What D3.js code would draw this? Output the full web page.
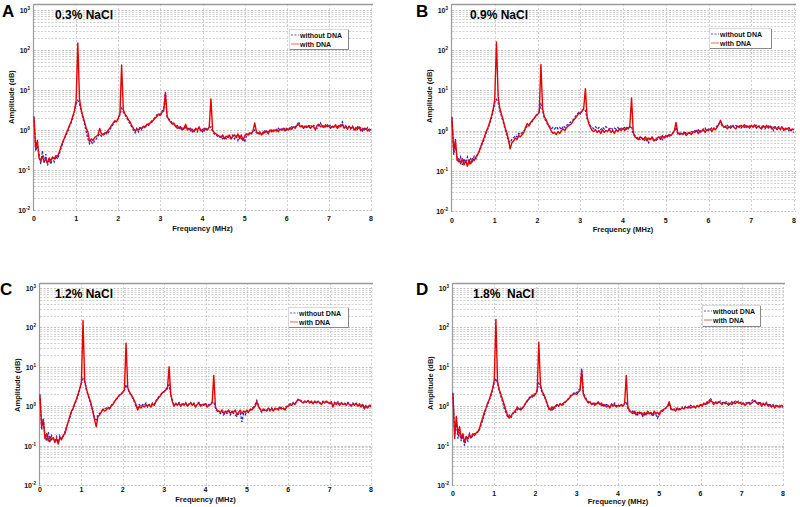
<!DOCTYPE html>
<html><head><meta charset="utf-8">
<script src="https://cdn.jsdelivr.net/npm/d3@7"></script>
<style>body{margin:0;background:#fff}svg{display:block;font-family:"Liberation Sans",Arial,sans-serif}</style>
</head><body><svg id="c" width="800" height="507"></svg>
<script>
// ---- data ----
const panelLetters = ["A","B","C","D"];
const panelTitles = ["0.3% NaCl","0.9% NaCl","1.2% NaCl","1.8%\u00a0\u00a0NaCl"];
const seriesNames = ["without DNA","with DNA"];
const xTickValues = [0,1,2,3,4,5,6,7,8];
const yTickExponents = [-2,-1,0,1,2,3];
const freqStep = 0.04; // MHz sampling of the spectra, 0..8 MHz
const frequencies = d3.range(201).map(i => +(i*freqStep).toFixed(2));

const withA = [
2.0,0.35,0.55,0.2,0.17,0.22,0.16,0.19,0.15,0.2,0.17,0.21,0.19,0.23,0.22,0.28,0.38,0.5,0.62,0.8,1.0,1.3,1.6,2.2,3.0,
5.5,150,6,3.2,2.2,1.6,1.1,0.9,0.5,0.6,0.55,0.65,0.7,0.75,1.1,0.8,0.75,0.85,0.8,1.0,1.1,1.3,1.5,1.7,1.6,
2.0,2.6,42,3.2,2.5,2.2,1.8,1.6,1.3,1.1,0.95,1.05,1.0,1.15,1.1,1.25,1.2,1.4,1.3,1.5,1.6,1.8,2.0,2.2,2.5,
2.4,2.8,3.0,8.5,2.2,1.8,1.6,1.4,1.5,1.2,1.3,1.1,1.2,1.0,1.1,1.4,1.0,1.1,0.95,1.05,0.9,1.1,1.0,1.2,0.95,
1.05,0.95,1.1,1.0,1.2,6,1.0,0.85,0.8,0.75,0.7,0.65,0.75,0.6,0.7,0.65,0.75,0.6,0.7,0.75,0.65,0.8,0.6,0.75,0.55,
0.7,0.8,0.75,0.85,0.8,0.95,1.5,0.9,0.8,0.9,0.75,0.9,0.85,0.95,0.8,1.0,0.9,1.0,0.95,1.05,0.9,1.05,1.0,1.1,0.95,
1.1,1.0,1.15,1.05,1.2,1.1,1.3,1.4,1.2,1.3,1.1,1.25,1.15,1.3,1.1,1.25,1.2,1.0,1.3,1.4,1.2,1.3,1.15,1.35,1.2,
1.3,1.1,1.25,1.2,1.35,1.1,1.3,1.2,1.4,1.1,1.2,1.05,1.25,1.1,1.2,1.0,1.15,1.05,1.2,0.95,1.1,1.0,1.1,0.95,1.05,
1.0];
const withoutA = [
2.2,0.3,0.4,0.25,0.14,0.3,0.15,0.25,0.13,0.18,0.14,0.2,0.16,0.22,0.19,0.25,0.35,0.45,0.6,0.75,0.9,1.2,1.5,2.0,2.8,
4.5,5.5,4.5,3.0,2.0,1.4,0.9,0.6,0.45,0.5,0.45,0.55,0.6,0.7,0.8,0.7,0.8,0.75,0.9,0.85,1.0,1.2,1.4,1.6,1.7,
1.9,2.4,3.5,2.8,2.4,2.0,1.7,1.4,1.2,1.0,0.85,1.1,0.9,1.2,1.0,1.3,1.1,1.4,1.4,1.6,1.7,1.9,2.1,2.4,2.6,
2.2,3.0,3.2,9,2.0,1.9,1.7,1.5,1.4,1.3,1.1,1.2,1.0,1.2,1.0,1.2,1.1,1.0,1.1,0.9,1.0,1.05,0.9,1.1,1.0,
0.9,1.1,1.0,1.05,1.1,1.2,0.9,0.8,0.75,0.7,0.65,0.7,0.6,0.65,0.6,0.7,0.6,0.65,0.75,0.6,0.7,0.55,0.7,0.6,0.65,
0.5,0.7,0.8,0.75,0.85,0.9,1.0,0.85,0.9,0.8,0.85,0.8,0.95,0.85,0.9,0.95,1.0,0.9,1.05,0.95,1.1,1.0,1.05,0.95,1.1,
1.0,1.15,1.05,1.2,1.1,1.2,1.3,1.6,1.3,1.2,1.3,1.1,1.3,1.2,1.35,1.15,1.3,1.2,1.1,1.3,1.5,1.2,1.3,1.2,1.4,
1.15,1.3,1.2,1.1,1.3,1.25,1.15,1.35,1.6,1.2,1.3,1.1,1.2,1.05,1.25,1.1,1.0,1.2,1.05,1.15,0.95,1.1,1.0,1.15,0.95,
1.0];
const withB = [
2.0,0.3,0.6,0.18,0.2,0.15,0.2,0.14,0.18,0.13,0.19,0.15,0.2,0.18,0.22,0.25,0.32,0.42,0.55,0.7,0.95,1.2,1.6,2.2,3.2,
6,160,7,3.5,2.5,1.8,1.2,0.9,0.6,0.35,0.5,0.55,0.65,0.6,0.75,0.7,0.8,0.9,1.2,1.5,1.3,1.6,1.8,2.0,2.3,
2.5,2.8,44,3.5,2.2,1.9,1.5,1.2,1.0,0.85,0.9,0.8,0.95,0.85,1.0,1.1,1.0,1.2,1.3,1.4,1.5,1.8,2.0,2.3,2.6,
2.8,3.0,3.5,11,2.2,1.5,1.2,1.0,0.95,1.05,0.9,1.0,0.85,1.05,0.9,1.0,0.95,1.1,0.9,1.0,0.85,1.05,0.95,1.1,1.0,
1.15,1.0,1.2,1.1,1.3,6.5,0.9,0.7,0.65,0.6,0.7,0.65,0.6,0.7,0.55,0.65,0.6,0.7,0.55,0.6,0.65,0.7,0.6,0.75,0.65,
0.75,0.7,0.8,0.75,0.85,1.0,1.6,0.9,0.8,0.85,0.8,0.9,0.75,0.85,0.9,0.8,0.95,0.9,1.0,0.85,1.0,0.95,1.1,0.9,1.05,
1.0,1.1,0.95,1.15,1.05,1.2,1.4,1.8,1.4,1.2,1.3,1.1,1.25,1.15,1.3,1.2,1.1,1.3,1.2,1.35,1.25,1.4,1.2,1.3,1.15,
1.35,1.2,1.4,1.15,1.3,1.2,1.1,1.3,1.2,1.35,1.15,1.3,1.1,1.2,1.25,1.05,1.2,1.1,1.25,1.0,1.15,1.1,1.2,1.0,1.1,
1.05];
const withoutB = [
2.2,0.25,0.45,0.2,0.16,0.22,0.14,0.2,0.16,0.22,0.15,0.2,0.17,0.23,0.2,0.27,0.3,0.4,0.5,0.65,0.9,1.1,1.5,2.0,3.0,
5,6,5,3.2,2.2,1.6,1.1,0.8,0.55,0.5,0.6,0.65,0.75,0.7,0.85,0.8,0.9,1.0,1.1,1.3,1.4,1.5,1.7,2.0,2.4,
2.6,3.0,4.5,3.2,2.0,1.7,1.4,1.3,1.1,1.2,1.1,1.25,1.1,1.2,1.05,1.3,1.2,1.35,1.4,1.6,1.7,1.9,2.2,2.5,2.8,
2.6,3.2,3.5,3.2,2.0,1.6,1.3,1.2,1.1,1.25,1.1,1.2,1.05,1.2,1.1,1.25,1.15,1.1,1.2,1.05,1.15,1.1,1.2,1.05,1.15,
1.1,1.2,1.1,1.25,1.2,1.3,0.8,0.75,0.65,0.7,0.6,0.65,0.55,0.6,0.65,0.5,0.6,0.65,0.6,0.55,0.6,0.65,0.7,0.6,0.7,
0.65,0.75,0.7,0.8,0.85,0.95,1.2,0.85,0.9,0.8,0.85,0.95,0.85,0.9,0.85,0.95,0.9,1.0,0.95,1.05,0.9,1.05,1.0,1.15,1.0,
1.1,1.05,1.2,1.1,1.2,1.3,1.5,1.6,1.3,1.25,1.2,1.35,1.2,1.3,1.4,1.25,1.35,1.2,1.3,1.15,1.3,1.2,1.35,1.2,1.3,
1.2,1.3,1.2,1.35,1.25,1.3,1.2,1.4,1.1,1.25,1.3,1.15,1.25,1.0,1.2,1.15,1.25,1.05,1.2,1.1,1.05,1.15,1.0,1.1,0.95,
0.9];
const withC = [
1.8,0.3,0.45,0.15,0.2,0.13,0.17,0.14,0.16,0.12,0.15,0.11,0.16,0.14,0.18,0.2,0.28,0.4,0.55,0.75,0.9,1.2,1.5,2.0,2.8,
4.0,150,4.5,2.8,2.0,1.5,1.1,0.7,0.45,0.3,0.55,0.6,0.7,0.85,0.75,0.8,0.9,0.85,1.0,1.1,1.3,1.5,1.7,1.9,2.0,
2.3,2.6,40,3.0,2.3,2.0,1.7,1.4,1.1,0.8,1.0,0.9,1.05,0.95,1.1,1.0,1.1,0.95,1.15,1.05,1.3,1.5,1.7,1.9,2.2,
2.3,2.6,2.8,10,2.0,1.3,1.0,1.15,1.05,1.2,1.0,1.15,1.05,1.2,1.0,1.1,1.2,1.05,1.15,0.95,1.1,1.2,1.0,1.1,1.05,
1.15,0.95,1.05,1.1,1.2,6,0.95,0.8,0.75,0.7,0.8,0.65,0.75,0.7,0.8,0.65,0.75,0.7,0.8,0.6,0.7,0.8,0.65,0.75,0.7,
0.8,0.7,0.85,0.8,0.9,1.0,1.3,1.0,0.85,0.75,0.85,0.8,0.75,0.9,0.8,0.85,0.75,0.9,0.85,0.8,0.95,0.85,0.9,0.8,0.95,
1.0,1.1,1.05,1.2,1.1,1.3,1.5,1.4,1.3,1.2,1.35,1.25,1.4,1.2,1.3,1.15,1.35,1.2,1.3,1.25,1.1,1.3,1.2,1.35,1.25,
1.15,1.3,0.95,1.2,1.1,1.25,1.05,1.2,1.1,1.15,1.05,1.2,1.1,1.0,1.15,1.05,1.2,1.0,1.1,0.95,1.1,0.85,1.0,0.9,1.05,
0.95];
const withoutC = [
2.0,0.25,0.5,0.18,0.13,0.22,0.12,0.18,0.15,0.13,0.17,0.12,0.18,0.15,0.17,0.22,0.3,0.38,0.5,0.7,0.85,1.1,1.4,1.9,2.6,
3.8,5,4.2,2.6,1.9,1.4,1.0,0.75,0.5,0.45,0.6,0.65,0.75,0.8,0.85,0.9,0.95,0.9,1.05,1.15,1.3,1.5,1.6,1.9,2.1,
2.2,2.5,3.5,2.8,2.2,1.9,1.6,1.3,1.0,0.9,1.1,1.0,1.1,1.05,1.2,0.95,1.1,1.05,1.2,1.1,1.35,1.6,1.8,2.0,2.3,
2.4,2.7,3.0,3.5,2.0,1.4,1.1,1.2,1.1,1.25,1.05,1.2,1.1,1.25,1.05,1.15,1.25,1.1,1.2,1.0,1.15,1.25,1.05,1.15,1.1,
1.2,1.0,1.1,1.15,1.25,1.3,0.9,0.75,0.7,0.65,0.75,0.6,0.7,0.65,0.75,0.6,0.7,0.65,0.6,0.55,0.65,0.7,0.4,0.65,0.6,
0.75,0.7,0.8,0.85,0.95,1.1,1.4,1.05,0.8,0.7,0.8,0.75,0.8,0.85,0.75,0.9,0.8,0.85,0.8,0.9,0.85,0.95,0.85,0.9,1.0,
1.05,1.15,1.1,1.25,1.15,1.35,1.45,1.5,1.35,1.25,1.3,1.3,1.35,1.25,1.35,1.2,1.3,1.25,1.35,1.2,1.2,1.35,1.25,1.3,1.2,
1.2,1.25,1.05,1.25,1.15,1.3,1.1,1.25,1.15,1.2,1.1,1.25,1.15,1.05,1.2,1.1,1.15,1.05,1.15,1.0,1.15,0.9,1.05,0.95,1.1,
1.0];
const withD = [
2.0,0.15,0.55,0.2,0.3,0.15,0.2,0.12,0.17,0.15,0.19,0.16,0.2,0.18,0.21,0.22,0.27,0.38,0.5,0.7,0.9,1.2,1.5,2.0,2.8,
4.5,160,4.2,2.6,2.0,1.5,1.1,0.8,0.6,0.5,0.55,0.65,0.7,0.8,0.95,0.85,0.8,0.9,1.0,1.2,1.4,1.5,1.7,1.9,1.8,
2.0,2.4,42,3.5,2.4,2.0,1.6,1.2,0.9,0.8,0.95,0.85,1.0,1.1,1.0,1.15,1.05,1.2,1.3,1.4,1.5,1.7,1.9,2.0,2.1,
2.0,2.3,2.5,8,2.0,1.6,1.4,1.2,1.3,1.1,1.2,1.05,1.15,1.3,1.1,1.2,1.0,1.1,0.95,1.05,0.9,1.1,1.0,1.1,0.95,
1.05,1.0,1.1,1.0,1.15,6,0.95,0.75,0.7,0.65,0.75,0.6,0.7,0.65,0.7,0.55,0.7,0.6,0.75,0.65,0.7,0.6,0.75,0.65,0.7,
0.6,0.75,0.8,0.85,0.9,1.0,1.3,0.9,0.8,0.85,0.75,0.9,0.8,0.85,0.9,0.85,0.95,0.9,1.0,0.9,0.95,1.0,0.9,1.05,0.95,
1.1,1.0,1.2,1.1,1.3,1.2,1.4,1.3,1.1,1.25,1.15,1.3,1.2,1.1,1.25,1.15,1.2,1.05,1.2,1.1,1.25,1.15,1.3,1.2,1.25,
1.1,1.2,1.05,1.15,1.25,1.1,1.2,1.3,1.4,1.2,1.1,1.25,1.0,1.15,1.05,1.2,1.0,1.1,0.95,1.05,0.9,1.05,1.0,0.95,1.05,
1.0];
const withoutD = [
2.2,0.2,0.4,0.15,0.22,0.13,0.18,0.1,0.16,0.13,0.2,0.15,0.18,0.2,0.19,0.24,0.25,0.33,0.45,0.6,0.85,1.1,1.4,1.9,2.6,
4.0,5,4.0,2.5,1.8,1.3,0.9,0.7,0.55,0.6,0.5,0.6,0.75,0.7,0.85,0.8,0.9,0.85,1.05,1.15,1.3,1.6,1.8,1.7,2.0,
2.1,2.6,3.8,3.0,2.2,1.8,1.5,1.1,0.85,0.9,0.8,0.95,0.9,1.05,1.15,1.1,1.2,1.1,1.25,1.35,1.6,1.8,2.0,2.1,2.3,
2.2,2.5,2.8,9,2.2,1.8,1.5,1.3,1.2,1.15,1.1,1.2,1.1,1.2,1.15,1.05,1.15,1.0,1.1,1.05,0.95,1.15,1.05,1.2,1.0,
1.1,0.95,1.05,1.1,1.2,1.3,0.85,0.8,0.7,0.75,0.65,0.7,0.6,0.7,0.6,0.65,0.6,0.7,0.65,0.6,0.7,0.55,0.65,0.6,0.5,
0.65,0.7,0.75,0.8,0.9,0.95,1.2,0.85,0.85,0.8,0.9,0.85,0.9,0.8,0.95,0.9,1.0,0.95,0.9,1.05,1.0,0.95,1.05,1.0,1.1,
1.05,1.15,1.1,1.2,1.15,1.35,1.6,1.35,1.2,1.3,1.25,1.2,1.35,1.2,1.3,1.25,1.3,1.2,1.15,1.3,1.2,1.35,1.25,1.35,1.2,
1.3,1.15,1.25,1.2,1.3,1.2,1.35,1.5,1.3,1.25,1.2,1.3,1.1,1.2,1.1,1.25,1.05,1.15,1.0,1.1,0.95,1.1,0.95,1.05,0.9,
1.0];
const withSeries = [withA, withB, withC, withD];
const withoutSeries = [withoutA, withoutB, withoutC, withoutD];

// ---- layout (positions only) ----
const layouts = [
 {left:34, right:371, top:10, bottom:210, frame:4, letter:[2,17], title:[55,19], ytitle:[11,97], xtickY:221, xtitleY:231, legend:[289,29,59,20]},
 {left:452, right:794, top:10, bottom:211, frame:4, letter:[416,17], title:[470,19], ytitle:[429,96], xtickY:223, xtitleY:232, legend:[709,28,62,20]},
 {left:40, right:371, top:288, bottom:485, frame:283, letter:[0,295], title:[55,298], ytitle:[17,385], xtickY:492, xtitleY:502, legend:[288,307,60,20]},
 {left:453, right:783, top:288, bottom:485, frame:283, letter:[416,295], title:[473,298], ytitle:[430,383], xtickY:496, xtitleY:504, legend:[702,305,58,21]}
];
const RED = "#e80000", BLUE = "#2a2ad8", GRID = "#c4c4c4", TXT = "#111";

const svg = d3.select("#c");

layouts.forEach((L, p) => {
  const g = svg.append("g");
  const x = d3.scaleLinear().domain([0, 8]).range([L.left, L.right]);
  const y = d3.scaleLog().domain([1e-2, 1e3]).range([L.bottom, L.top]);

  // horizontal grid (minor + major)
  const hv = [];
  for (let e = -2; e <= 2; e++) for (let m = 1; m <= 9; m++) hv.push(m * Math.pow(10, e));
  hv.push(1e3);
  g.selectAll(".hg").data(hv).join("line")
    .attr("x1", L.left).attr("x2", L.right + 2)
    .attr("y1", d => Math.round(y(d)) + 0.5).attr("y2", d => Math.round(y(d)) + 0.5)
    .attr("stroke", d => (Math.abs(Math.log10(d) % 1) < 1e-9 ? "#b0b0b0" : GRID))
    .attr("stroke-width", 0.8)
    .attr("stroke-dasharray", "2,1.5");
  // vertical grid
  g.selectAll(".vg").data(xTickValues.slice(1)).join("line")
    .attr("x1", d => Math.round(x(d)) + 0.5).attr("x2", d => Math.round(x(d)) + 0.5)
    .attr("y1", L.frame).attr("y2", L.bottom)
    .attr("stroke", GRID).attr("stroke-width", 0.8).attr("stroke-dasharray", "2,2");
  // frame top and left axis
  g.append("line").attr("x1", L.left).attr("x2", L.right + 2).attr("y1", L.frame + 0.5).attr("y2", L.frame + 0.5)
    .attr("stroke", "#9a9a9a").attr("stroke-width", 1.3);
  g.append("line").attr("x1", L.left - 0.5).attr("x2", L.left - 0.5).attr("y1", L.frame).attr("y2", L.bottom + 1)
    .attr("stroke", "#9a9a9a").attr("stroke-width", 1.2);

  // series
  const line = d3.line().x((d, i) => x(frequencies[i])).y(d => y(d));
  g.append("path").attr("d", line(withoutSeries[p])).attr("fill", "none")
    .attr("stroke", BLUE).attr("stroke-width", 1.3).attr("stroke-dasharray", "2.5,1.5");
  g.append("path").attr("d", line(withSeries[p])).attr("fill", "none")
    .attr("stroke", RED).attr("stroke-width", 1.4).attr("stroke-linejoin", "round");

  // y tick labels
  const yt = g.selectAll(".yt").data(yTickExponents).join("text")
    .attr("x", L.left - 4).attr("y", d => y(Math.pow(10, d)) + 3)
    .attr("text-anchor", "end").attr("font-size", 7).attr("font-weight", "bold").attr("fill", TXT);
  yt.append("tspan").text("10");
  yt.append("tspan").attr("dy", -3).attr("font-size", 4.5).text(d => d);
  // x tick labels
  g.selectAll(".xt").data(xTickValues).join("text")
    .attr("x", d => x(d)).attr("y", L.xtickY).attr("text-anchor", "middle")
    .attr("font-size", 7).attr("font-weight", "bold").attr("fill", TXT).text(d => d);
  // axis titles
  g.append("text").attr("x", (L.left + L.right) / 2).attr("y", L.xtitleY).attr("text-anchor", "middle")
    .attr("font-size", 7.5).attr("font-weight", "bold").attr("fill", TXT).text("Frequency (MHz)");
  g.append("text").attr("transform", `translate(${L.ytitle[0] + 3},${L.ytitle[1]}) rotate(-90)`)
    .attr("text-anchor", "middle").attr("font-size", 7.5).attr("font-weight", "bold").attr("fill", TXT).text("Amplitude (dB)");
  // letter and title
  g.append("text").attr("x", L.letter[0]).attr("y", L.letter[1]).attr("font-size", 17).attr("font-weight", "bold")
    .attr("fill", "#000").text(panelLetters[p]);
  g.append("text").attr("x", L.title[0]).attr("y", L.title[1]).attr("font-size", 12).attr("font-weight", "bold")
    .attr("fill", "#000").attr("xml:space", "preserve").text(panelTitles[p]);

  // legend
  const [lx, ly, lw, lh] = L.legend;
  g.append("rect").attr("x", lx + 0.5).attr("y", ly + 0.5).attr("width", lw).attr("height", lh)
    .attr("fill", "#fff").attr("stroke", "#d0d0d0").attr("stroke-width", 0.8);
  g.append("path").attr("d", `M${lx + lw + 0.5},${ly + 1}V${ly + lh + 0.5}H${lx + 1}`)
    .attr("fill", "none").attr("stroke", "#888").attr("stroke-width", 1);
  seriesNames.forEach((nm, k) => {
    const yy = ly + 6 + k * 9;
    g.append("line").attr("x1", lx + 2).attr("x2", lx + 10).attr("y1", yy).attr("y2", yy)
      .attr("stroke", k === 0 ? BLUE : RED).attr("stroke-width", 1)
      .attr("stroke-dasharray", k === 0 ? "2,1.5" : null).attr("opacity", k === 0 ? 0.8 : 0.6);
    g.append("text").attr("x", lx + 11).attr("y", yy + 2.5).attr("font-size", 7).attr("font-weight", "bold")
      .attr("fill", TXT).text(nm);
  });
});
</script></body></html>
